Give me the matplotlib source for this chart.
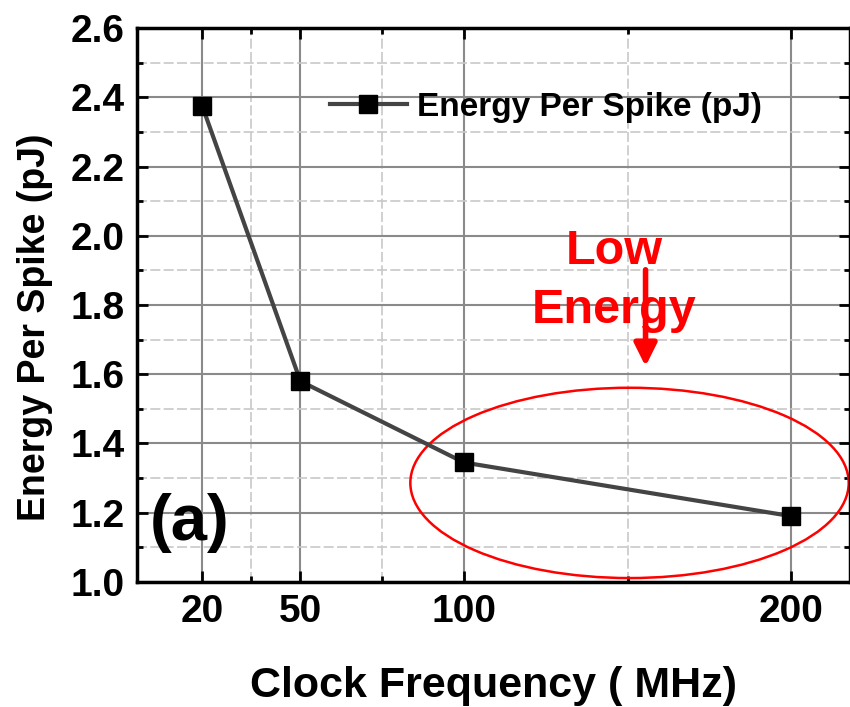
import numpy as np
from matplotlib import pyplot as plt
from matplotlib.patches import Ellipse
from matplotlib.ticker import MultipleLocator, FixedLocator

plt.rcParams['font.family'] = ['Liberation Sans', 'DejaVu Sans']
plt.rcParams['font.weight'] = 'bold'

freq = [20, 50, 100, 200]          # MHz
energy = [2.375, 1.58, 1.345, 1.19]  # pJ
xticks = [20, 50, 100, 200]
xminor = [35, 75, 150]

fig = plt.figure(figsize=(8.5, 7.07), dpi=100)
ax = fig.add_axes([0.161, 0.177, 0.839, 0.783])

ax.plot(freq, energy, color='#444444', lw=3, marker='s', ms=13,
        mfc='black', mec='black', label='Energy Per Spike (pJ)')

ax.set_xlim(0, 218)
ax.set_ylim(1.0, 2.6)
ax.xaxis.set_major_locator(FixedLocator(xticks))
ax.xaxis.set_minor_locator(FixedLocator(xminor))
ax.yaxis.set_major_locator(MultipleLocator(0.2))
ax.yaxis.set_minor_locator(MultipleLocator(0.1))
ax.set_yticklabels([f'{v:.1f}' for v in ax.get_yticks()])

ax.grid(which='major', color='#8a8a8a', lw=1.5, ls='-')
ax.grid(which='minor', color='#c8c8c8', lw=1.2, ls=(0, (6, 2)))
ax.set_axisbelow(True)

ax.tick_params(which='both', direction='in', top=True, right=True,
               labelsize=28, width=2)
ax.tick_params(which='major', length=8, pad=9)
ax.tick_params(which='minor', length=4)
for lab in ax.get_xticklabels() + ax.get_yticklabels():
    lab.set_fontweight('bold')
for s in ax.spines.values():
    s.set_linewidth(2.5)

ax.set_xlabel('Clock Frequency ( MHz)', fontsize=31, fontweight='bold', labelpad=26)
ax.set_ylabel('Energy Per Spike (pJ)', fontsize=27, fontweight='bold')
ax.yaxis.set_label_coords(-0.117, 0.46)

ax.legend(loc='center left', bbox_to_anchor=(0.271, 0.857), frameon=False,
          borderpad=0, borderaxespad=0, handlelength=2.3, handletextpad=0.3,
          prop={'weight': 'bold', 'size': 24})

# red ellipse highlighting the low energy region
ax.add_patch(Ellipse((150.6, 1.286), 134, 0.55, fill=False, ec='red', lw=1.8, clip_on=False))
ax.annotate('', xy=(155.5, 1.615), xytext=(155.5, 1.91),
            arrowprops=dict(arrowstyle='-|>', color='red', lw=4, mutation_scale=34))
ax.text(146, 1.955, 'Low', color='red', fontsize=35, fontweight='bold', ha='center', va='center')
ax.text(146, 1.785, 'Energy', color='red', fontsize=35, fontweight='bold', ha='center', va='center')

ax.text(4, 1.17, '(a)', fontsize=47, fontweight='bold', ha='left', va='center')

fig.savefig('out.png', dpi=100)
